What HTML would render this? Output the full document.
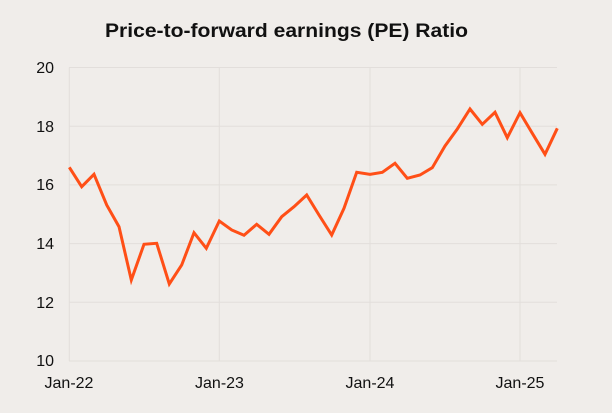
<!DOCTYPE html>
<html><head><meta charset="utf-8"><style>
html,body{margin:0;padding:0;background:#f0edea;}
svg{display:block;font-family:"Liberation Sans",Arial,sans-serif;}
</style></head><body>
<svg width="612" height="413" viewBox="0 0 612 413" xmlns="http://www.w3.org/2000/svg">
<rect width="612" height="413" fill="#f0edea"/>
<text x="105" y="37" font-size="19" font-weight="bold" fill="#111" textLength="363" lengthAdjust="spacingAndGlyphs">Price-to-forward earnings (PE) Ratio</text>
<g stroke="#e2dedb" stroke-width="1">
<line x1="69" y1="67.5" x2="557" y2="67.5"/>
<line x1="69" y1="126.2" x2="557" y2="126.2"/>
<line x1="69" y1="184.9" x2="557" y2="184.9"/>
<line x1="69" y1="243.6" x2="557" y2="243.6"/>
<line x1="69" y1="302.3" x2="557" y2="302.3"/>
<line x1="69" y1="361" x2="557" y2="361"/>
<line x1="69.3" y1="67.5" x2="69.3" y2="361"/>
<line x1="219.3" y1="67.5" x2="219.3" y2="361"/>
<line x1="370" y1="67.5" x2="370" y2="361"/>
<line x1="520" y1="67.5" x2="520" y2="361"/>
</g>
<g font-size="16" fill="#111" text-anchor="end">
<text x="54" y="73">20</text>
<text x="54" y="132">18</text>
<text x="54" y="190">16</text>
<text x="54" y="249">14</text>
<text x="54" y="308">12</text>
<text x="54" y="366">10</text>
</g>
<g font-size="16" fill="#111" text-anchor="middle">
<text x="69" y="388">Jan-22</text>
<text x="219.5" y="388">Jan-23</text>
<text x="370" y="388">Jan-24</text>
<text x="520" y="388">Jan-25</text>
</g>
<polyline fill="none" stroke="#ff4f17" stroke-width="3" stroke-linejoin="miter" points="69.3,167.3 81.7,186.7 94,174.3 106.7,205 119,226.7 131.3,280 144,244.3 156.7,243.3 169.3,284 181.7,265 194,232.7 206.3,248.3 219.3,221 231.7,230 244,235.3 256.7,224.3 269,234.3 281.7,216.7 294,206.7 306.7,195 319,215 331.7,235 344,208.3 356.7,172.3 370,174.3 382.3,172.3 395,163.3 407.3,178.3 420,175 432.3,167.7 445,146 457.3,129 470,109 482.3,124.3 495,112.3 507.3,137.7 520,112.7 532.3,133.3 545,154.3 557.3,128.3"/>
</svg>
</body></html>
